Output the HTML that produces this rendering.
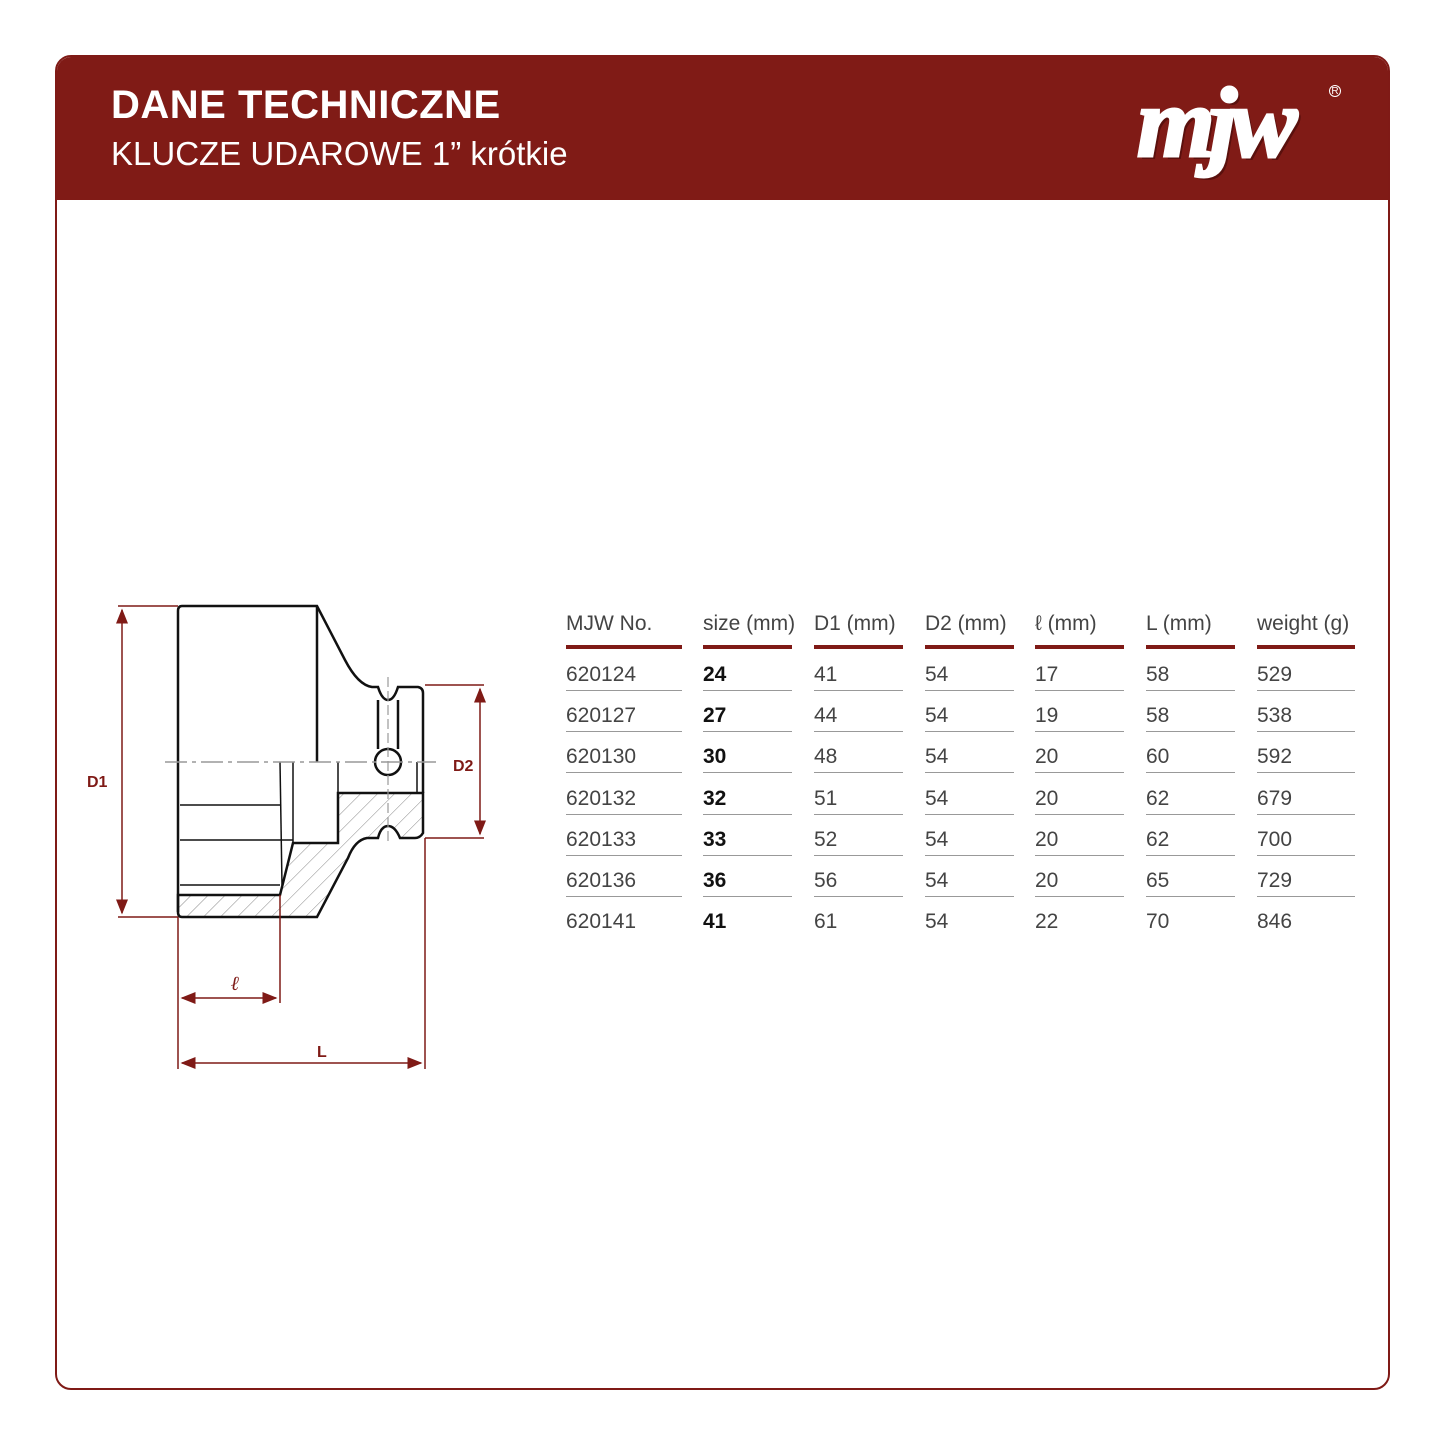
<!DOCTYPE html>
<html><head><meta charset="utf-8"><style>
*{margin:0;padding:0;box-sizing:border-box}
body{width:1445px;height:1445px;background:#fff;position:relative;font-family:"Liberation Sans",sans-serif;overflow:hidden}
.card{position:absolute;left:55px;top:55px;width:1335px;height:1335px;border:2px solid #7f1a16;border-radius:16px;overflow:hidden}
.band{position:absolute;left:0;top:0;width:100%;height:143px;background:#801b16}
.t1{position:absolute;left:54px;top:26px;color:#fff;font-weight:bold;font-size:40px;letter-spacing:0.5px}
.t2{position:absolute;left:54px;top:78px;color:#fff;font-size:33px}
.logo{position:absolute;left:1080px;top:8px;color:#fff;font-family:"Liberation Serif",serif;font-style:italic;font-weight:bold;font-size:100px;letter-spacing:-6px;-webkit-text-stroke:3px #fff;text-shadow:3px 3px 0 #5a100d}
.reg{position:absolute;left:1272px;top:28px;color:#fff;font-size:10px;border:1px solid #fff;border-radius:50%;width:12px;height:12px;text-align:center;line-height:11px}
.c{position:absolute;font-size:21px;color:#444;white-space:nowrap}
.b{font-weight:bold;color:#111}
.hl{position:absolute;height:4px;background:#7f1a16}
.gl{position:absolute;height:1px;background:#999}
</style></head><body>
<div class="card">
<div class="band"></div>
<div class="t1">DANE TECHNICZNE</div>
<div class="t2">KLUCZE UDAROWE 1” krótkie</div>
<div class="logo">mjw</div>
<div class="reg">R</div>
</div>
<svg style="position:absolute;left:0;top:0" width="1445" height="1445">
<defs><pattern id="h" width="12" height="12" patternUnits="userSpaceOnUse" patternTransform="rotate(45)"><line x1="0" y1="0" x2="0" y2="12" stroke="#888" stroke-width="1"/></pattern>
<marker id="a" markerWidth="10" markerHeight="8" refX="9" refY="4" orient="auto-start-reverse"><path d="M0,0 L10,4 L0,8 z" fill="#7f1a16"/></marker></defs>
<g fill="none" stroke="#111" stroke-width="2.5">
<path d="M178,895 L280,895 L293,843 L338,843 L338,793 L423,793 L423,833 Q420,838 415,838 L400,838 Q395,826 388,826 Q381,826 378,838 L367,838 Q355,840 348,858 L317,917 L182,917 Q178,917 178,912 Z" fill="url(#h)"/>
<path d="M182,606 L317,606 L345,660 Q358,685 372,687 L378,687 Q382,700 388,700 Q394,700 398,687 L418,687 Q423,688 423,693 L423,793"/>
<path d="M182,606 Q178,606 178,611 L178,912"/>
<line x1="317" y1="606" x2="317" y2="762"/>
<circle cx="388" cy="762" r="13"/>
<line x1="378" y1="700" x2="378" y2="749"/><line x1="398" y1="700" x2="398" y2="749"/>
</g>
<g stroke="#111" stroke-width="1.5">
<line x1="180" y1="805" x2="280" y2="805"/><line x1="180" y1="840" x2="293" y2="840"/><line x1="180" y1="885" x2="280" y2="885"/>
<line x1="280" y1="762" x2="282" y2="885"/><line x1="293" y1="762" x2="293" y2="843"/><line x1="338" y1="762" x2="338" y2="793"/><line x1="417" y1="762" x2="417" y2="793"/>
</g>
<line x1="165" y1="762" x2="436" y2="762" stroke="#999" stroke-width="1.5" stroke-dasharray="22,5,4,5"/>
<line x1="388" y1="677" x2="388" y2="842" stroke="#999" stroke-width="1.2" stroke-dasharray="10,4"/>
<g stroke="#7f1a16" stroke-width="1.5" fill="none">
<line x1="118" y1="606" x2="178" y2="606"/><line x1="118" y1="917" x2="178" y2="917"/>
<line x1="122" y1="610" x2="122" y2="913" marker-start="url(#a)" marker-end="url(#a)"/>
<line x1="425" y1="685" x2="484" y2="685"/><line x1="425" y1="838" x2="484" y2="838"/>
<line x1="480" y1="689" x2="480" y2="834" marker-start="url(#a)" marker-end="url(#a)"/>
<line x1="178" y1="917" x2="178" y2="1069"/><line x1="280" y1="895" x2="280" y2="1003"/><line x1="425" y1="838" x2="425" y2="1069"/>
<line x1="182" y1="998" x2="276" y2="998" marker-start="url(#a)" marker-end="url(#a)"/>
<line x1="182" y1="1063" x2="421" y2="1063" marker-start="url(#a)" marker-end="url(#a)"/>
</g>
<g fill="#7f1a16" font-family="Liberation Sans" font-weight="bold" font-size="16">
<text x="87" y="787">D1</text><text x="453" y="771">D2</text><text x="317" y="1057">L</text>
<text x="231" y="990" font-style="italic" font-family="Liberation Serif" font-size="20">ℓ</text>
</g>
</svg>
<div id="t"></div>
<script>
var cols=[[566,116],[703,89],[814,89],[925,89],[1035,89],[1146,89],[1257,98]];
var hd=["MJW No.","size (mm)","D1 (mm)","D2 (mm)","ℓ (mm)","L (mm)","weight (g)"];
var rows=[["620124","24","41","54","17","58","529"],["620127","27","44","54","19","58","538"],["620130","30","48","54","20","60","592"],["620132","32","51","54","20","62","679"],["620133","33","52","54","20","62","700"],["620136","36","56","54","20","65","729"],["620141","41","61","54","22","70","846"]];
var h="";
cols.forEach(function(c,i){
h+='<div class="c" style="left:'+c[0]+'px;top:612px">'+hd[i]+'</div>';
h+='<div class="hl" style="left:'+c[0]+'px;top:645px;width:'+c[1]+'px"></div>';
rows.forEach(function(r,j){
h+='<div class="c'+(i==1?' b':'')+'" style="left:'+c[0]+'px;top:'+(663+j*41.2)+'px">'+r[i]+'</div>';
if(j<6)h+='<div class="gl" style="left:'+c[0]+'px;top:'+(690+j*41.2)+'px;width:'+c[1]+'px"></div>';
});});
document.getElementById("t").innerHTML=h;
</script>
</body></html>
